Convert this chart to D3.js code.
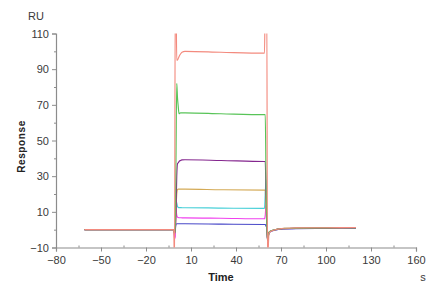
<!DOCTYPE html>
<html>
<head>
<meta charset="utf-8">
<script src="https://cdn.jsdelivr.net/npm/d3@7"></script>
<style>
  body { margin: 0; background: #fff; }
  text { font-family: "Liberation Sans", Arial, sans-serif; }
</style>
</head>
<body>
<div id="chart"></div>
<script>
// sample times (s), shared by every curve
let times = [-61, -1.5, -1, -0.5, 0, 0.5, 1, 1.5, 2, 3, 4, 6, 30, 59, 59.5, 60, 60.5, 61, 62, 63, 65, 68, 72, 80, 100, 120];

// response values (RU)
let redVals     = [0, 0, -25, 130, 130, 95, 95, 96, 97, 98.5, 99.5, 100, 99.5, 99, 130, 130, 130, -20, -2, -1, -0.3, 0.3, 0.8, 1, 1.1, 1.2];
let greenVals   = [0, 0, -3, 2, 40, 82, 74, 69, 65, 65.5, 65.5, 65.5, 65, 64.5, 64.5, 30, 5, -6, -1.5, -0.8, -0.2, 0.4, 0.7, 0.9, 1, 1.1];
let purpleVals  = [0, 0, -2, 0, 10, 30, 37, 37.5, 38.2, 38.8, 39.1, 39.2, 38.8, 38.2, 38.2, 20, 5, -6, -1.6, -0.9, -0.3, 0.3, 0.6, 0.8, 0.9, 1];
let goldVals    = [0, 0, -2, 0, 10, 20, 22.5, 22.7, 22.7, 22.7, 22.7, 22.7, 22.4, 22.2, 22.2, 12, 3, -6, -1.6, -0.9, -0.3, 0.3, 0.6, 0.8, 0.9, 1];
let cyanVals    = [0, 0, -2, 2, 16, 15, 13, 12.5, 12.4, 12.4, 12.3, 12.3, 12.1, 11.9, 20, 28, 10, -6, -1.8, -1, -0.4, 0.2, 0.5, 0.7, 0.8, 0.9];
let magentaVals = [0, 0, -5, -4, 12, 8, 7, 6.8, 6.7, 6.7, 6.6, 6.6, 6.4, 6.1, 8, 14, 6, -6, -1.8, -1, -0.4, 0.2, 0.5, 0.7, 0.8, 0.9];
let blueVals    = [0, 0, -2, 0, 3, 3.3, 3.3, 3.3, 3.3, 3.3, 3.3, 3.3, 3.1, 2.9, 2.9, 2, 1, -6, -2, -1.1, -0.5, 0.1, 0.4, 0.6, 0.7, 0.8];

let seriesNames = ["blue", "magenta", "cyan", "gold", "purple", "green", "red"];
let seriesVals = [blueVals, magentaVals, cyanVals, goldVals, purpleVals, greenVals, redVals];
let seriesColors = ["#4848c8", "#f040ee", "#48d0d8", "#d4aa56", "#84268e", "#58c458", "#f38a7e"];

let xMajor = [-80, -50, -20, 10, 40, 70, 100, 130, 160];
let xMinor = [-65, -35, -5, 25, 55, 85, 115, 145];
let yMajor = [-10, 10, 30, 50, 70, 90, 110];
let yMinor = [0, 20, 40, 60, 80, 100];

let W = 437, H = 289;
let m = {top: 33.5, right: 21, bottom: 41.5, left: 56};
let w = W - m.left - m.right;
let h = H - m.top - m.bottom;

let svg = d3.select("#chart").append("svg")
    .attr("width", W)
    .attr("height", H);

let g = svg.append("g")
    .attr("transform", "translate(" + m.left + "," + m.top + ")");

let x = d3.scaleLinear().domain([-80, 160]).range([0, w]);
let y = d3.scaleLinear().domain([-10, 110]).range([h, 0]);

let axisColor = "#8c8c8c";
let labelColor = "#3a3a3a";

// x axis
let xAxis = g.append("g")
    .attr("transform", "translate(0," + h + ")")
    .call(d3.axisBottom(x).tickValues(xMajor).tickSize(4).tickPadding(5).tickFormat(d3.format("d")));
xAxis.append("g")
    .call(d3.axisBottom(x).tickValues(xMinor).tickSize(-2).tickFormat(""))
    .select(".domain").remove();

// y axis
let yAxis = g.append("g")
    .call(d3.axisLeft(y).tickValues(yMajor).tickSize(4).tickPadding(3).tickFormat(d3.format("d")));
yAxis.append("g")
    .call(d3.axisLeft(y).tickValues(yMinor).tickSize(2).tickFormat(""))
    .select(".domain").remove();

svg.selectAll(".domain").attr("stroke", axisColor).attr("stroke-width", 1.2);
svg.selectAll(".tick line").attr("stroke", axisColor);
svg.selectAll(".tick text")
    .attr("fill", labelColor)
    .style("font-size", "11px")
    .style("font-family", "'Liberation Sans', Arial, sans-serif");

// clip to plot area
g.append("clipPath").attr("id", "plotClip")
    .append("rect")
    .attr("x", 0).attr("y", 0)
    .attr("width", w).attr("height", h);

let line = d3.line()
    .x((d) => x(d[0]))
    .y((d) => y(d[1]))
    .curve(d3.curveMonotoneX);

let curves = g.append("g").attr("clip-path", "url(#plotClip)");

seriesVals.forEach((vals, i) => {
    let pts = times.map((t, k) => [t, vals[k]]);
    curves.append("path")
        .datum(pts)
        .attr("class", "curve " + seriesNames[i])
        .attr("fill", "none")
        .attr("stroke", seriesColors[i])
        .attr("stroke-width", 1.15)
        .attr("stroke-linejoin", "round")
        .attr("d", line);
});

// axis titles
svg.append("text")
    .attr("x", 28).attr("y", 20)
    .attr("fill", labelColor)
    .style("font-size", "11px")
    .text("RU");

svg.append("text")
    .attr("transform", "translate(25," + (m.top + h / 2 + 6) + ") rotate(-90)")
    .attr("text-anchor", "middle")
    .attr("fill", "#222")
    .style("font-size", "10px")
    .style("font-weight", "bold")
    .style("letter-spacing", "0.6px")
    .text("Response");

svg.append("text")
    .attr("x", 221).attr("y", 281)
    .attr("text-anchor", "middle")
    .attr("fill", "#222")
    .style("font-size", "11px")
    .style("font-weight", "bold")
    .text("Time");

svg.append("text")
    .attr("x", 423).attr("y", 281)
    .attr("text-anchor", "middle")
    .attr("fill", labelColor)
    .style("font-size", "11px")
    .text("s");
</script>
</body>
</html>
